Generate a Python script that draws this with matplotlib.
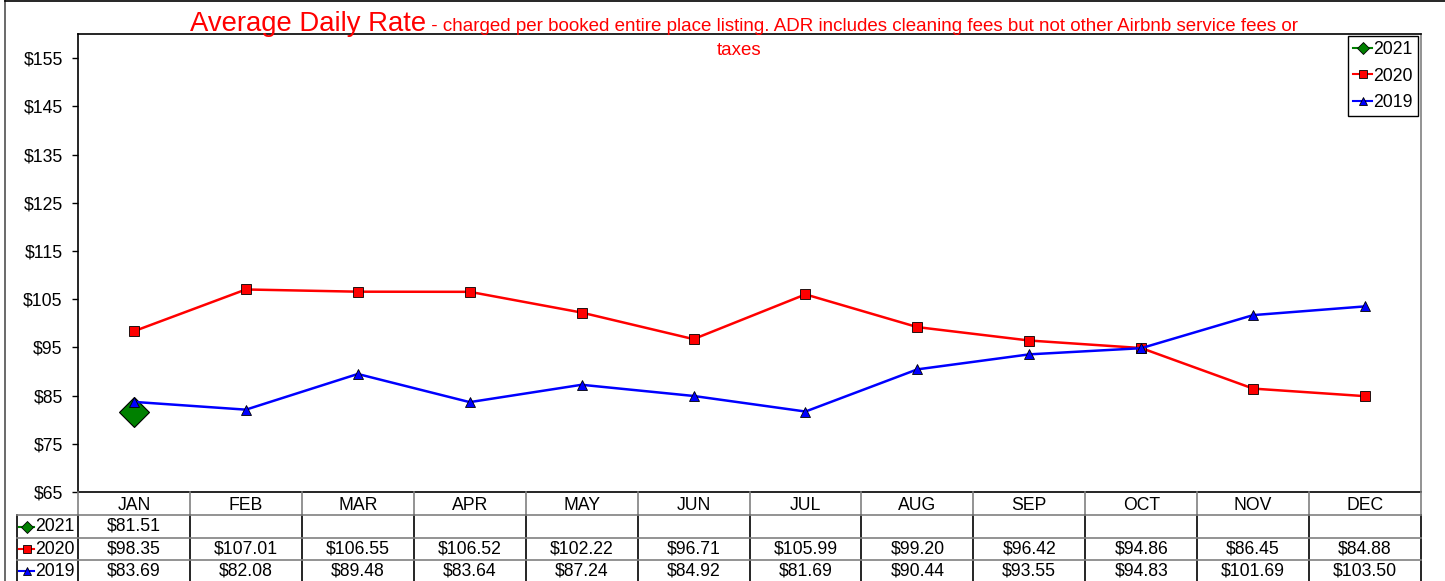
import matplotlib
matplotlib.use('Agg')
import matplotlib.pyplot as plt
from matplotlib.lines import Line2D
from matplotlib.transforms import blended_transform_factory

plt.rcParams['font.family'] = ['Liberation Sans', 'DejaVu Sans']

months = ['JAN', 'FEB', 'MAR', 'APR', 'MAY', 'JUN', 'JUL', 'AUG', 'SEP', 'OCT', 'NOV', 'DEC']
adr_2021 = [81.51]
adr_2020 = [98.35, 107.01, 106.55, 106.52, 102.22, 96.71, 105.99, 99.20, 96.42, 94.86, 86.45, 84.88]
adr_2019 = [83.69, 82.08, 89.48, 83.64, 87.24, 84.92, 81.69, 90.44, 93.55, 94.83, 101.69, 103.50]
years = ['2021', '2020', '2019']
yticks = [65, 75, 85, 95, 105, 115, 125, 135, 145, 155]

W, H = 1445, 581
fig = plt.figure(figsize=(W / 100, H / 100), dpi=100)
L, R, T, B = 78, 1421, 34, 492
ax = fig.add_axes([L / W, 1 - B / H, (R - L) / W, (B - T) / H])
FS = 12.7

def fx(px):
    return px / W

def fy(py):
    return 1 - py / H

styles = {
    '2021': dict(color='#008000', marker='D', mfc='#008000', mec='black'),
    '2020': dict(color='#FF0000', marker='s', mfc='#FF0000', mec='black'),
    '2019': dict(color='#0000FF', marker='^', mfc='#0000FF', mec='black'),
}
series = {'2021': adr_2021, '2020': adr_2020, '2019': adr_2019}

ax.plot(range(len(adr_2021)), adr_2021, lw=1.8, ms=15, mew=0.8, zorder=3, **styles['2021'])
ax.plot(range(len(adr_2020)), adr_2020, lw=1.8, ms=6.5, mew=0.6, zorder=4, **styles['2020'])
ax.plot(range(len(adr_2019)), adr_2019, lw=1.8, ms=7, mew=0.6, zorder=5, **styles['2019'])

ax.set_xlim(-0.5, len(months) - 0.5)
ax.set_ylim(65, 160)
ax.set_yticks(yticks)
ax.set_yticklabels([f'${v}' for v in yticks], fontsize=FS)
ax.set_xticks([])
ax.tick_params(axis='y', direction='out', length=4, width=1, pad=7, colors='black')
for s in ['left', 'top', 'bottom']:
    ax.spines[s].set_color('black')
    ax.spines[s].set_linewidth(1.2)
ax.spines['right'].set_color('#808080')
ax.spines['right'].set_linewidth(1.2)

# legend
handles = [Line2D([], [], lw=1.5, ms=6, mew=0.6, **styles[y]) for y in years]
leg = ax.legend(handles, years, loc='upper right', bbox_to_anchor=(fx(1418), fy(36)),
                bbox_transform=fig.transFigure, borderaxespad=0, fancybox=False,
                edgecolor='black', framealpha=1, fontsize=FS, handlelength=1.05,
                handletextpad=0.1, borderpad=0.28, labelspacing=0.55)
leg.get_frame().set_linewidth(1.0)

# title
fig.text(fx(426), fy(31), 'Average Daily Rate', color='#FF0000', fontsize=19.8,
         ha='right', va='baseline')
fig.text(fx(426), fy(31),
         ' - charged per booked entire place listing. ADR includes cleaning fees but not other Airbnb service fees or',
         color='#FF0000', fontsize=13.5, ha='left', va='baseline')
fig.text(fx(739), fy(55), 'taxes', color='#FF0000', fontsize=13.5, ha='center', va='baseline')

# figure border
fig.add_artist(Line2D([fx(5), fx(5)], [fy(0), fy(H)], color='#505050', lw=1.2))
fig.add_artist(Line2D([fx(5), fx(W)], [fy(1), fy(1)], color='black', lw=1.2))

# data table
bt = blended_transform_factory(ax.transData, fig.transFigure)
row_edges = [492, 515, 538, 560, 583]
grey = '#808080'
n = len(months)
for i in range(n + 1):
    fig.add_artist(Line2D([i - 0.5, i - 0.5], [fy(492), fy(515)], transform=bt,
                          color=grey, lw=1.2))
for i in range(n + 1):
    fig.add_artist(Line2D([i - 0.5, i - 0.5], [fy(515), fy(583)], transform=bt,
                          color='black', lw=1.2))
fig.add_artist(Line2D([fx(17), fx(17)], [fy(515), fy(583)], color='black', lw=1.2))
for yy in row_edges[1:4]:
    fig.add_artist(Line2D([fx(17), fx(R)], [fy(yy), fy(yy)], color=grey, lw=1.2))

for i, m in enumerate(months):
    fig.text(i, fy(505), m, transform=bt, ha='center', va='center', fontsize=FS)

text_centres = [526.5, 549, 571]
for r, y in enumerate(years):
    yc = text_centres[r]
    vals = series[y]
    for i, v in enumerate(vals):
        fig.text(i, fy(yc), f'${v:.2f}', transform=bt, ha='center', va='center', fontsize=FS)
    st = styles[y]
    fig.add_artist(Line2D([fx(19), fx(34)], [fy(yc), fy(yc)], lw=1.5, color=st['color']))
    fig.add_artist(Line2D([fx(26.5)], [fy(yc)], lw=0, ms=6, mew=0.6, **st))
    fig.text(fx(35), fy(yc), y, ha='left', va='center', fontsize=FS)

fig.savefig('out.png', dpi=100)
